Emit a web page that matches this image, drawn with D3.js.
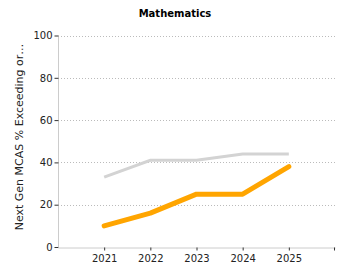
<!DOCTYPE html>
<html>
<head>
<meta charset="utf-8">
<script src="https://cdn.jsdelivr.net/npm/d3@7"></script>
<style>
  body { margin: 0; background: #fff; }
  text { font-family: "DejaVu Sans", Verdana, sans-serif; }
</style>
</head>
<body>
<svg width="350" height="280"></svg>
<script>
// data
var years = ["2021", "2022", "2023", "2024", "2025"];
var stateValues = [33, 41, 41, 44, 44];
var schoolValues = [10, 16, 25, 25, 38];
var yTicks = [0, 20, 40, 60, 80, 100];

var svg = d3.select("svg");
var margin = {left: 58, right: 15, top: 35.5, bottom: 33};
var width = +svg.attr("width");
var height = +svg.attr("height");

var x = d3.scalePoint().domain(years).range([margin.left, width - margin.right]).padding(1);
var y = d3.scaleLinear().domain([0, 100]).range([height - margin.bottom, margin.top]);

// title
svg.append("text")
  .attr("x", 175).attr("y", 17)
  .attr("text-anchor", "middle")
  .attr("font-size", 10).attr("font-weight", "bold")
  .attr("fill", "#000")
  .text("Mathematics");

// grid
svg.append("g")
  .selectAll("line")
  .data(yTicks.filter(function(d) { return d > 0; }))
  .enter().append("line")
  .attr("x1", margin.left).attr("x2", width - margin.right)
  .attr("y1", function(d) { return Math.round(y(d)) + 0.5; })
  .attr("y2", function(d) { return Math.round(y(d)) + 0.5; })
  .attr("stroke", "#bbb").attr("stroke-dasharray", "1,2");

// y axis
var yAxis = svg.append("g")
  .attr("transform", "translate(" + (margin.left + 0.5) + ",0)")
  .call(d3.axisLeft(y).tickValues(yTicks).tickSize(4).tickPadding(2));
yAxis.select(".domain").attr("stroke", "#ccc").attr("d", "M0," + y(100) + "V" + y(0));
yAxis.selectAll(".tick line").attr("stroke", "#333");
yAxis.selectAll("text").attr("font-size", 10).attr("fill", "#222").attr("font-family", "DejaVu Sans");

// x axis
var xAxis = svg.append("g")
  .attr("transform", "translate(0," + (Math.round(y(0)) + 0.5) + ")")
  .call(d3.axisBottom(x).tickSize(3).tickPadding(4).tickSizeOuter(0));
xAxis.select(".domain").attr("stroke", "#ccc");
xAxis.selectAll(".tick line").attr("stroke", "#333");
xAxis.selectAll("text").attr("font-size", 10).attr("fill", "#222").attr("font-family", "DejaVu Sans");
xAxis.append("line")
  .attr("x1", width - margin.right - 0.5).attr("x2", width - margin.right - 0.5)
  .attr("y1", 0).attr("y2", 3).attr("stroke", "#333");

// y label
svg.append("text")
  .attr("transform", "translate(23,137) rotate(-90)")
  .attr("text-anchor", "middle")
  .attr("font-size", 11).attr("fill", "#222")
  .text("Next Gen MCAS % Exceeding or…");

// lines
var line = d3.line()
  .x(function(d, i) { return x(years[i]); })
  .y(function(d) { return y(d); });

svg.append("path")
  .datum(stateValues)
  .attr("d", line)
  .attr("fill", "none")
  .attr("stroke", "#d3d3d3")
  .attr("stroke-width", 3);

svg.append("path")
  .datum(schoolValues)
  .attr("d", line)
  .attr("fill", "none")
  .attr("stroke", "#ffa500")
  .attr("stroke-width", 5)
  .attr("stroke-linecap", "round")
  .attr("stroke-linejoin", "round");
</script>
</body>
</html>
